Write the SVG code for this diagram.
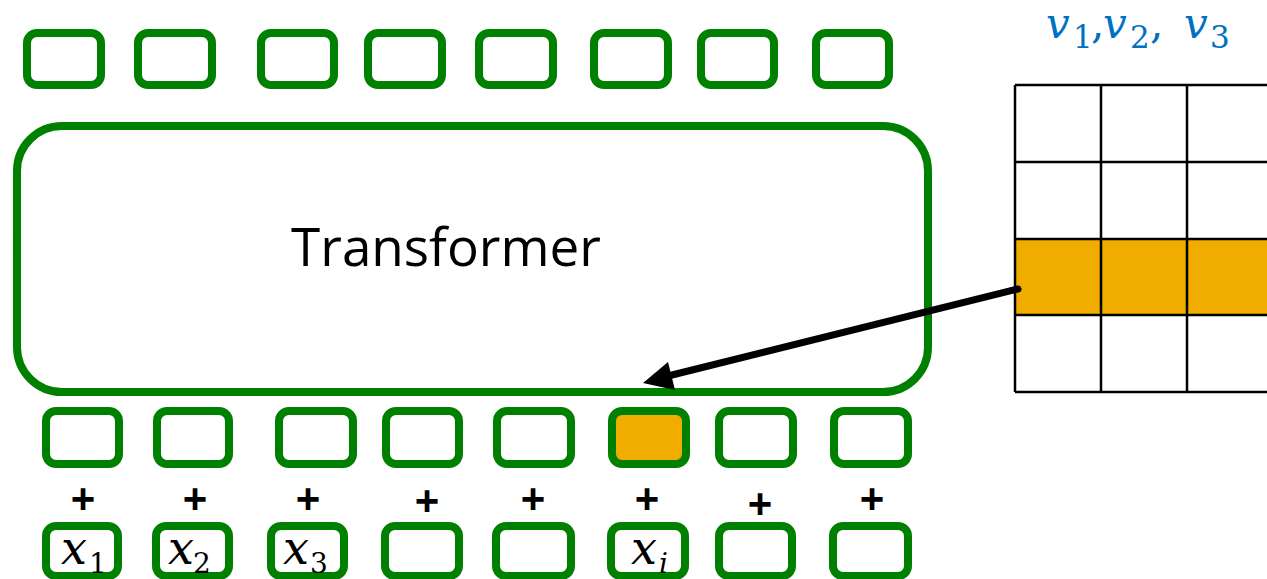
<svg xmlns="http://www.w3.org/2000/svg" width="1267" height="579" viewBox="0 0 1267 579">
<style>
.b{fill:#fff;stroke:#008000;stroke-width:8}
.o{fill:#F0AD00}
.p{font-family:"Liberation Sans",Arial,sans-serif;font-size:42px;font-weight:bold;text-anchor:middle;fill:#000}
.m{font-family:"DejaVu Serif","Liberation Serif",serif;font-style:italic;font-size:46px;fill:#000}
.s{font-style:normal;font-size:28px}
.g{stroke:#000;stroke-width:2.5;fill:none}
.v{font-family:"DejaVu Serif","Liberation Serif",serif;font-style:italic;font-size:42px;fill:#0070C0}
.vs{font-style:normal;font-size:31px}
</style>
<rect width="1267" height="579" fill="#fff"/>
<g id="outputs">
<rect class="b" x="27" y="33" width="74" height="52" rx="10"/>
<rect class="b" x="138" y="33" width="74" height="52" rx="10"/>
<rect class="b" x="261" y="33" width="73" height="52" rx="10"/>
<rect class="b" x="368" y="33" width="74" height="52" rx="10"/>
<rect class="b" x="479" y="33" width="74" height="52" rx="10"/>
<rect class="b" x="594" y="33" width="74" height="52" rx="10"/>
<rect class="b" x="701" y="33" width="73" height="52" rx="10"/>
<rect class="b" x="816" y="33" width="73" height="52" rx="10"/>
</g>
<g id="transformer">
<rect class="b" x="17" y="126" width="911" height="266" rx="45"/>
<text x="446" y="266" font-family="'Open Sans','Liberation Sans',sans-serif" font-size="53" text-anchor="middle" fill="#000">Transformer</text>
</g>
<g id="embeddings">
<rect class="b" x="46" y="411" width="73" height="53" rx="10"/>
<rect class="b" x="157" y="411" width="72" height="53" rx="10"/>
<rect class="b" x="279" y="411" width="74" height="53" rx="10"/>
<rect class="b" x="386" y="411" width="73" height="53" rx="10"/>
<rect class="b" x="497" y="411" width="74" height="53" rx="10"/>
<rect class="b" x="612" y="411" width="74" height="53" rx="10" style="fill:#F0AD00"/>
<rect class="b" x="719" y="411" width="74" height="53" rx="10"/>
<rect class="b" x="834" y="411" width="74" height="53" rx="10"/>
</g>
<g id="plus">
<text class="p" x="83" y="513">+</text>
<text class="p" x="195" y="513">+</text>
<text class="p" x="308" y="513">+</text>
<text class="p" x="427" y="515">+</text>
<text class="p" x="533" y="513">+</text>
<text class="p" x="647" y="513">+</text>
<text class="p" x="760" y="518">+</text>
<text class="p" x="872" y="513">+</text>
</g>
<g id="inputs">
<rect class="b" x="46" y="526" width="72" height="50" rx="10"/>
<rect class="b" x="156" y="526" width="73" height="50" rx="10"/>
<rect class="b" x="271" y="526" width="73" height="50" rx="10"/>
<rect class="b" x="385" y="526" width="74" height="50" rx="10"/>
<rect class="b" x="496" y="526" width="75" height="50" rx="10"/>
<rect class="b" x="611" y="526" width="74" height="50" rx="10"/>
<rect class="b" x="719" y="526" width="73" height="50" rx="10"/>
<rect class="b" x="833" y="526" width="75" height="50" rx="10"/>
<text class="m" x="61" y="564">x<tspan class="s" x="89" y="573">1</tspan></text>
<text class="m" x="168" y="564">x<tspan class="s" x="193" y="573">2</tspan></text>
<text class="m" x="283" y="564">x<tspan class="s" x="310" y="573">3</tspan></text>
<text class="m" x="631" y="564">x<tspan class="s" x="659" y="573" style="font-style:italic">i</tspan></text>
</g>
<g id="embedding-table">
<rect class="o" x="1015" y="239" width="252" height="76"/>
<path class="g" d="M1015 85H1267M1015 162H1267M1015 239H1267M1015 315H1267M1015 392H1267M1015 85V392M1101 85V392M1187 85V392"/>
<text class="v" x="1046" y="38">v<tspan class="vs" x="1073" y="48">1</tspan><tspan style="font-style:normal" x="1091" y="38">,</tspan><tspan x="1103" y="38">v</tspan><tspan class="vs" x="1130" y="48">2</tspan><tspan style="font-style:normal" x="1150" y="38">,</tspan><tspan x="1184" y="38">v</tspan><tspan class="vs" x="1210" y="48">3</tspan></text>
</g>
<g id="connectors">
<line x1="1018" y1="289" x2="668" y2="376" stroke="#000" stroke-width="7" stroke-linecap="round"/>
<polygon points="643,383 668,362 675,390" fill="#000"/>
</g>
</svg>
